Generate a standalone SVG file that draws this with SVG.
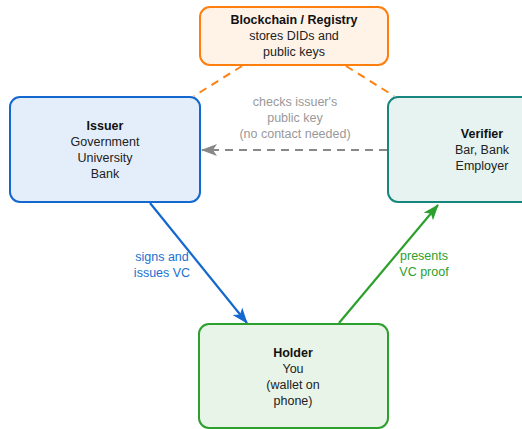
<svg xmlns="http://www.w3.org/2000/svg" width="522" height="429" viewBox="0 0 522 429">
<defs>
<style>
text{font-family:"Liberation Sans",Arial,sans-serif;font-size:12.5px;text-anchor:middle;fill:#222}
.b{font-weight:bold;fill:#111}
.box{stroke-width:2}
</style>
<marker id="ab" viewBox="0 0 16 12" refX="15" refY="6" markerWidth="16" markerHeight="12" markerUnits="userSpaceOnUse" orient="auto"><path d="M0,0 L16,6 L0,12 L4,6 Z" fill="#1268cf"/></marker>
<marker id="ag" viewBox="0 0 16 12" refX="15" refY="6" markerWidth="16" markerHeight="12" markerUnits="userSpaceOnUse" orient="auto"><path d="M0,0 L16,6 L0,12 L4,6 Z" fill="#2ca02c"/></marker>
<marker id="ay" viewBox="0 0 16 12" refX="15" refY="6" markerWidth="16" markerHeight="12" markerUnits="userSpaceOnUse" orient="auto"><path d="M0,0 L16,6 L0,12 L4,6 Z" fill="#888"/></marker>
</defs>
<g id="connectors">
<line x1="242" y1="66" x2="194" y2="96" stroke="#ff7f0e" stroke-width="2" stroke-dasharray="8,6"/>
<line x1="346" y1="66" x2="394" y2="96" stroke="#ff7f0e" stroke-width="2" stroke-dasharray="8,6"/>
<line x1="387" y1="150" x2="202" y2="150" stroke="#888" stroke-width="2.2" stroke-dasharray="8,6" marker-end="url(#ay)"/>
<line x1="150" y1="203" x2="247" y2="323" stroke="#1268cf" stroke-width="2.2" marker-end="url(#ab)"/>
<line x1="339" y1="323" x2="438" y2="205" stroke="#2ca02c" stroke-width="2.2" marker-end="url(#ag)"/>
<text x="295" y="106" style="fill:#999">checks issuer's</text>
<text x="295" y="122" style="fill:#999">public key</text>
<text x="295" y="138" style="fill:#999">(no contact needed)</text>
<text x="162" y="261" style="fill:#1a6fd0">signs and</text>
<text x="162" y="277" style="fill:#1a6fd0">issues VC</text>
<text x="424" y="260" style="fill:#2ca02c">presents</text>
<text x="424" y="276" style="fill:#2ca02c">VC proof</text>
</g>
<g id="registry">
<rect class="box" x="200" y="7" width="188" height="58" rx="10" fill="#fff3e8" stroke="#ff7f0e"/>
<text class="b" x="294" y="24">Blockchain / Registry</text>
<text x="294" y="40">stores DIDs and</text>
<text x="294" y="56">public keys</text>
</g>
<g id="issuer">
<rect class="box" x="10" y="97" width="190" height="105" rx="10" fill="#e4eefa" stroke="#1268cf"/>
<text class="b" x="105" y="130">Issuer</text>
<text x="105" y="146">Government</text>
<text x="105" y="162">University</text>
<text x="105" y="178">Bank</text>
</g>
<g id="verifier">
<rect class="box" x="388" y="97" width="190" height="105" rx="10" fill="#e6f3f1" stroke="#17877d"/>
<text class="b" x="482" y="138">Verifier</text>
<text x="482" y="154">Bar, Bank</text>
<text x="482" y="170">Employer</text>
</g>
<g id="holder">
<rect class="box" x="199" y="324" width="189" height="104" rx="10" fill="#e8f4e8" stroke="#2ca02c"/>
<text class="b" x="293" y="357">Holder</text>
<text x="293" y="373">You</text>
<text x="293" y="389">(wallet on</text>
<text x="293" y="405">phone)</text>
</g>
</svg>
